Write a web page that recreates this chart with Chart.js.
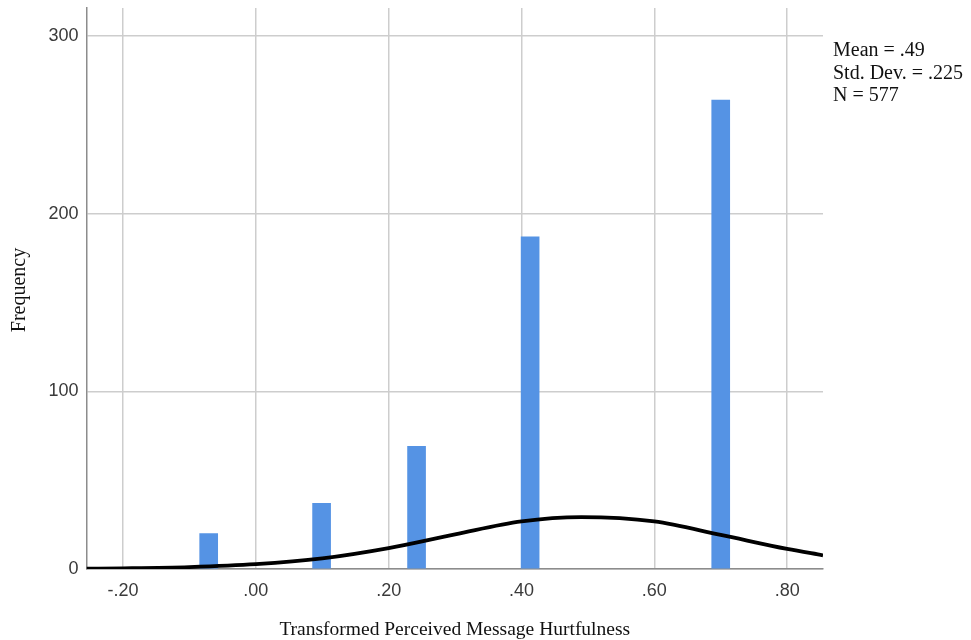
<!DOCTYPE html>
<html>
<head>
<meta charset="utf-8">
<script src="https://cdn.jsdelivr.net/npm/chart.js@4.4.1/dist/chart.umd.min.js"></script>
<style>
  body { margin: 0; background: #fff; }
  canvas { display: block; }
</style>
</head>
<body>
<canvas id="hist" width="971" height="640"></canvas>
<script>
// histogram bins (centres) and counts
const binCenters = [-0.071, 0.099, 0.242, 0.413, 0.700];
const frequencies = [20, 37, 69, 187, 264];

// normal curve at a few x positions
const curveX = [-0.255, -0.2, -0.1, 0.0, 0.1, 0.2, 0.3, 0.4, 0.49, 0.6, 0.7, 0.8, 0.854];
const curveY = [0.2, 0.4, 1.1, 2.7, 6.0, 11.8, 19.5, 26.8, 29.2, 26.8, 19.2, 11.3, 7.7];

const xTickValues = [-0.2, 0.0, 0.2, 0.4, 0.6, 0.8];
const xTickLabels = ['-.20', '.00', '.20', '.40', '.60', '.80'];
const yTickValues = [0, 100, 200, 300];
const yTickLabels = ['0', '100', '200', '300'];

const xTitle = 'Transformed Perceived Message Hurtfulness';
const yTitle = 'Frequency';
const statsLines = ['Mean = .49', 'Std. Dev. = .225', 'N = 577'];

const serif = '"Liberation Serif", "Times New Roman", serif';
const sans = '"Liberation Sans", Arial, sans-serif';

const textPlugin = {
  id: 'spssText',
  afterDraw(chart) {
    const ctx = chart.ctx;
    const area = chart.chartArea;
    ctx.save();
    ctx.fillStyle = '#111';
    ctx.textBaseline = 'middle';
    ctx.textAlign = 'left';
    ctx.font = '20px ' + serif;
    statsLines.forEach((s, i) => ctx.fillText(s, area.right + 10, 51 + i * 22.5));

    ctx.font = '19.5px ' + serif;
    ctx.textAlign = 'center';
    ctx.fillText(xTitle, (area.left + area.right) / 2, 630);

    ctx.font = '20px ' + serif;
    ctx.translate(20, 290);
    ctx.rotate(-Math.PI / 2);
    ctx.fillText(yTitle, 0, 0);
    ctx.restore();
  }
};

new Chart(document.getElementById('hist').getContext('2d'), {
  type: 'bar',
  data: {
    datasets: [
      {
        type: 'line',
        data: curveX.map((x, i) => ({ x: x, y: curveY[i] })),
        borderColor: '#000',
        borderWidth: 3.8,
        pointRadius: 0,
        cubicInterpolationMode: 'monotone',
        fill: false,
        order: 0
      },
      {
        type: 'bar',
        data: binCenters.map((x, i) => ({ x: x, y: frequencies[i] })),
        backgroundColor: 'rgb(85,147,228)',
        barThickness: 18,
        order: 1
      }
    ]
  },
  options: {
    responsive: false,
    animation: false,
    layout: { padding: { top: 8, right: 148, left: 0, bottom: 0 } },
    plugins: { legend: { display: false }, tooltip: { enabled: false } },
    scales: {
      x: {
        type: 'linear',
        min: -0.255,
        max: 0.854,
        offset: false,
        grid: { color: '#cdcdcd', lineWidth: 1.5, drawTicks: false, offset: false },
        border: { color: '#8c8c8c', width: 1.5 },
        afterBuildTicks: s => { s.ticks = xTickValues.map(v => ({ value: v })); },
        afterFit: s => { s.height = 71; s.paddingLeft = 0; s.paddingRight = 0; },
        ticks: {
          padding: 11,
          color: '#3a3a3a',
          font: { family: sans, size: 18 },
          callback: (v) => xTickLabels[xTickValues.findIndex(t => Math.abs(t - v) < 1e-9)]
        }
      },
      y: {
        min: 0,
        max: 315.8,
        grid: { color: '#cdcdcd', lineWidth: 1.5, drawTicks: false },
        border: { color: '#8c8c8c', width: 1.5 },
        afterBuildTicks: s => { s.ticks = yTickValues.map(v => ({ value: v })); },
        afterFit: s => { s.width = 86.5; s.paddingTop = 0; s.paddingBottom = 0; },
        ticks: {
          padding: 8,
          color: '#3a3a3a',
          font: { family: sans, size: 18 },
          callback: (v) => yTickLabels[yTickValues.indexOf(v)]
        }
      }
    }
  },
  plugins: [textPlugin]
});
</script>
</body>
</html>
